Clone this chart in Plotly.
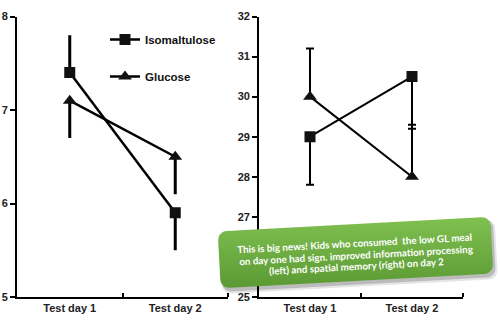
import numpy as np
import plotly.graph_objects as go

# ---------------- data ----------------
days = ["Test day 1", "Test day 2"]
series_names = ["Isomaltulose", "Glucose"]

# left panel (information processing)
left_iso = [7.4, 5.9]
left_iso_err_plus = [0.4, 0.0]
left_iso_err_minus = [0.0, 0.4]
left_glu = [7.1, 6.5]
left_glu_err_plus = [0.0, 0.0]
left_glu_err_minus = [0.4, 0.4]

# right panel (spatial memory)
right_iso = [29.0, 30.5]
right_iso_err_plus = [0.0, 0.0]
right_iso_err_minus = [1.2, 1.3]
right_glu = [30.0, 28.0]
right_glu_err_plus = [1.2, 1.3]
right_glu_err_minus = [0.0, 0.0]

left_ticks = [5, 6, 7, 8]
right_ticks = [25, 27, 28, 29, 30, 31, 32]

note_lines = ["This is big news! Kids who consumed  the low GL meal",
              "on day one had sign. improved information processing",
              "(left) and spatial memory (right) on day 2"]

W, H = 500, 325
xpos = [0, 1]
FONT = "Liberation Sans, Arial, sans-serif"

fig = go.Figure()

def add_series(xa, ya, vals, ep, em, symbol, name, showlegend, lw, ew, cap, msize):
    fig.add_trace(go.Scatter(
        x=xpos, y=vals, mode="lines+markers", name=name,
        xaxis=xa, yaxis=ya, showlegend=showlegend, legendgroup=name,
        line=dict(color="black", width=lw),
        marker=dict(symbol=symbol, size=msize, color="#111111",
                    line=dict(color="black", width=0)),
        error_y=dict(type="data", symmetric=False, array=ep, arrayminus=em,
                     color="black", thickness=ew, width=cap),
    ))

add_series("x", "y", left_iso, left_iso_err_plus, left_iso_err_minus,
           "square", series_names[0], True, 2.5, 3, 0, 11)
add_series("x", "y", left_glu, left_glu_err_plus, left_glu_err_minus,
           "triangle-up", series_names[1], True, 2.5, 3, 0, 12)
add_series("x2", "y2", right_iso, right_iso_err_plus, right_iso_err_minus,
           "square", series_names[0], False, 2, 2, 4, 11)
add_series("x2", "y2", right_glu, right_glu_err_plus, right_glu_err_minus,
           "triangle-up", series_names[1], False, 2, 2, 4, 12)

# ---------------- green note box (pixel overlay axes) ----------------
def rot(px, py, ang_deg):
    a = np.radians(ang_deg)
    return px*np.cos(a) - py*np.sin(a), px*np.sin(a) + py*np.cos(a)

def rounded_rot_rect(cx, cy, w, h, ang_deg, r, n=8):
    pts = []
    corners = [(w/2 - r, -h/2 + r, -90, 0), (w/2 - r, h/2 - r, 0, 90),
               (-w/2 + r, h/2 - r, 90, 180), (-w/2 + r, -h/2 + r, 180, 270)]
    for (ccx, ccy, a0, a1) in corners:
        for t in np.linspace(np.radians(a0), np.radians(a1), n):
            pts.append((ccx + r*np.cos(t), ccy + r*np.sin(t)))
    pts.append(pts[0])
    xs, ys = [], []
    for (px, py) in pts:
        rx, ry = rot(px, py, ang_deg)
        xs.append(cx + rx)
        ys.append(H - (cy + ry))   # convert to y-up
    return xs, ys

bcx, bcy, bw, bh, bang = 355.5, 252.5, 273, 57, -3.1
for dx, dy, alpha, grow in [(3, 4, 0.10, 3), (2, 3, 0.18, 1)]:
    sx, sy = rounded_rot_rect(bcx + dx, bcy + dy, bw + grow, bh + grow, bang, 9)
    fig.add_trace(go.Scatter(x=sx, y=sy, xaxis="x3", yaxis="y3", mode="lines",
                             fill="toself", fillcolor=f"rgba(0,0,0,{alpha})",
                             line=dict(width=0), showlegend=False, hoverinfo="skip"))
bx, by = rounded_rot_rect(bcx, bcy, bw, bh, bang, 9)
fig.add_trace(go.Scatter(x=bx, y=by, xaxis="x3", yaxis="y3", mode="lines",
                         fill="toself",
                         fillgradient=dict(type="vertical",
                                           colorscale=[[0, "#5b9a33"], [1, "#80c051"]]),
                         line=dict(width=0), showlegend=False, hoverinfo="skip"))

line_gap = 11.5
for i, txt in enumerate(note_lines):
    off = (i - 1) * line_gap
    ox, oy = rot(0, off, bang)
    fig.add_annotation(xref="paper", yref="paper",
                       x=(bcx + ox) / W, y=1 - (bcy + 2 + oy) / H,
                       xanchor="center", yanchor="middle",
                       text=txt, showarrow=False, textangle=-3.1,
                       font=dict(family="Lato, sans-serif", size=9.8,
                                 color="white", weight="bold"))

# ---------------- layout ----------------
ydom = [1 - 297/H, 1 - 16.5/H]
common_x = dict(range=[-0.5, 1.5], tickvals=xpos, ticktext=days, ticks="",
                showline=True, linecolor="black", linewidth=1.8, showgrid=False,
                zeroline=False, fixedrange=True, automargin=False,
                tickfont=dict(family=FONT, size=11, color="#222", weight="bold"),
                minor=dict(tickvals=[0.5, 1.5], ticks="inside", ticklen=4,
                           tickcolor="black", tickwidth=1.5, showgrid=False))
common_y = dict(ticks="outside", ticklen=5, tickwidth=1.5, tickcolor="black",
                showline=True, linecolor="black", linewidth=1.8, showgrid=False,
                zeroline=False, fixedrange=True, automargin=False,
                tickfont=dict(family=FONT, size=11, color="#222", weight="bold"))

fig.update_layout(
    width=W, height=H, margin=dict(l=0, r=0, t=0, b=0, autoexpand=False),
    paper_bgcolor="white", plot_bgcolor="rgba(0,0,0,0)",
    xaxis=dict(domain=[17/W, 228/W], anchor="y", **common_x),
    yaxis=dict(domain=ydom, anchor="x", range=[5, 8], tickvals=left_ticks, **common_y),
    xaxis2=dict(domain=[259/W, 463/W], anchor="y2", **common_x),
    yaxis2=dict(domain=ydom, anchor="x2", range=[25, 32], tickvals=right_ticks, **common_y),
    xaxis3=dict(domain=[0, 1], anchor="y3", range=[0, W], visible=False,
                fixedrange=True, automargin=False),
    yaxis3=dict(domain=[0, 1], anchor="x3", range=[0, H], visible=False,
                fixedrange=True, automargin=False),
    legend=dict(x=105/W, y=1 - 25/H, xanchor="left", yanchor="top",
                bgcolor="rgba(0,0,0,0)", tracegroupgap=18, traceorder="grouped",
                font=dict(family=FONT, size=11.5, color="#111", weight="bold")),
    showlegend=True,
)

fig.write_html("out.html")
